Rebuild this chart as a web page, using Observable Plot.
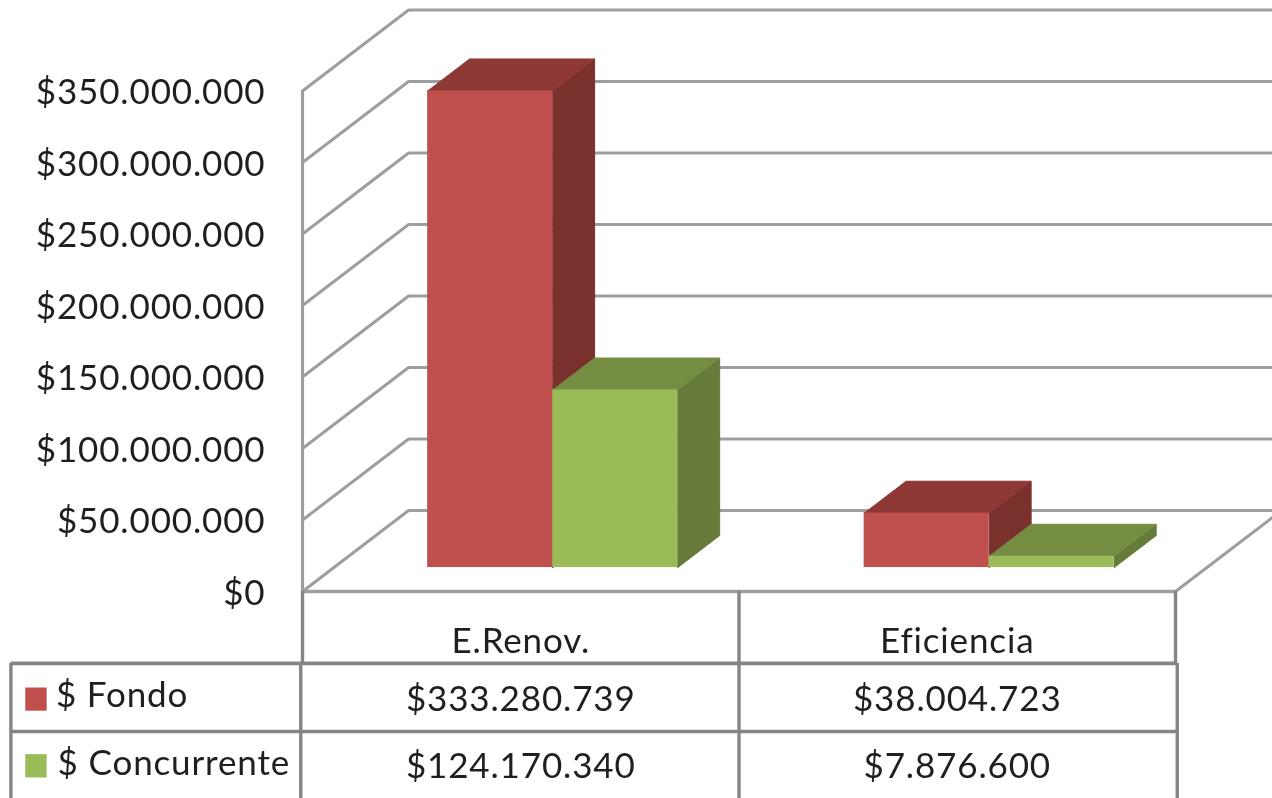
<!DOCTYPE html>
<html>
<head>
<meta charset="utf-8">
<style>html,body{margin:0;padding:0;background:#fff;overflow:hidden}svg{display:block}svg text{letter-spacing:.85px}</style>
<script src="https://cdn.jsdelivr.net/npm/d3@7"></script>
<script src="https://cdn.jsdelivr.net/npm/@observablehq/plot@0.6"></script>
</head>
<body>
<div id="chart"></div>
<script>
// ---- chart values ----
const categories = ["E.Renov.", "Eficiencia"];
const seriesNames = ["$ Fondo", "$ Concurrente"];
const fondo = [333280739, 38004723];
const concurrente = [124170340, 7876600];
const yTicks = [0, 50e6, 100e6, 150e6, 200e6, 250e6, 300e6, 350e6];

// ---- colours ----
const faceColors = [
  {front: "#C0504D", top: "#8E3936", side: "#7A302D"},
  {front: "#9BBB59", top: "#748D42", side: "#667B3A"}
];
const wallColor = "#9E9E9E", tableColor = "#858585", inkColor = "#1f1f1f";

// ---- oblique projection, in scale units (categories / dollars) ----
const depthX = 0.243, depthY = 56.6e6;   // shift of the full floor depth
const barDepth = [0.296, 0.691];         // bar's near and far depth
const barStart = 0.2148, barWidth = 0.2865;
const project = (cat, value, depth) => ({x: cat + depth * depthX, y: value + depth * depthY});

const fmt = d3.formatLocale({decimal: ",", thousands: ".", grouping: [3], currency: ["$", ""]}).format("$,d");

// ---- table layout, in scale units ----
const tableLeft = -0.668, tableLeftInner = -0.004, tableRight = 2.004;
const rowLines = [-50.3e6, -97.9e6, -145e6];
const rowText = [-35e6, -75.5e6, -122.5e6];

const wallLines = yTicks.map(v => [project(0, v, 0), project(0, v, 1), project(2.4, v, 1)]);
const floorRight = [project(2, 0, 0), project(2, 0, 1)];

const series = [fondo, concurrente];
const faces = [];
categories.forEach((_, c) => series.forEach((vals, s) => {
  const v = vals[c], x0 = c + barStart + s * barWidth, x1 = x0 + barWidth;
  const [n, f] = barDepth, col = faceColors[s];
  faces.push({fill: col.side, pts: [project(x1, 0, n), project(x1, 0, f), project(x1, v, f), project(x1, v, n), project(x1, 0, n)]});
  faces.push({fill: col.top, pts: [project(x0, v, n), project(x0, v, f), project(x1, v, f), project(x1, v, n), project(x0, v, n)]});
  const a = project(x0, v, n), b = project(x1, 0, n);
  faces.push({fill: col.front, rect: {x1: a.x, x2: b.x, y1: b.y, y2: a.y}});
}));

const xy = {x: "x", y: "y"};
const fontFamily = "Lato, 'Open Sans', sans-serif";
const txt = {fill: inkColor, fontSize: 35, fontFamily};

const marks = [
  // walls and floor
  ...wallLines.map(l => Plot.line(l, {...xy, stroke: wallColor, strokeWidth: 3})),
  Plot.line(floorRight, {...xy, stroke: wallColor, strokeWidth: 3}),
  Plot.ruleX([0], {y1: 0, y2: 350e6, stroke: wallColor, strokeWidth: 3.2}),
  Plot.ruleY([0], {x1: 0, x2: 2, stroke: wallColor, strokeWidth: 3.4}),
  // bars
  ...faces.map(f => f.rect
    ? Plot.rect([f.rect], {x1: "x1", x2: "x2", y1: "y1", y2: "y2", fill: f.fill})
    : Plot.line(f.pts, {...xy, fill: f.fill, stroke: f.fill, strokeWidth: 1})),
  // table grid
  Plot.ruleY(rowLines.slice(0, 2), {x1: tableLeft, x2: tableRight, stroke: tableColor, strokeWidth: 3.6}),
  Plot.ruleX([0, 1, 2], {y1: 0, y2: rowLines[0], stroke: tableColor, strokeWidth: 3.4}),
  Plot.ruleX([tableLeft, tableLeftInner, 1, tableRight], {y1: rowLines[0], y2: rowLines[2], stroke: tableColor, strokeWidth: 3.4}),
  // table text
  Plot.text(categories, {x: (_, i) => i + 0.5, y: () => rowText[0], text: d => d, ...txt}),
  ...series.map((vals, s) => Plot.text(vals, {x: (_, i) => i + 0.5, y: () => rowText[s + 1], text: d => fmt(d), ...txt})),
  // legend keys
  Plot.rect(seriesNames, {
    x1: () => tableLeft + 0.034, x2: () => tableLeft + 0.083,
    y1: (_, i) => rowText[i + 1] + (i ? -7.9e6 : -8.2e6), y2: (_, i) => rowText[i + 1] + (i ? 8.4e6 : 8.0e6),
    fill: (_, i) => faceColors[i].front
  }),
  Plot.text(seriesNames, {
    x: (_, i) => tableLeft + (i ? 0.107 : 0.103), y: (_, i) => rowText[i + 1] + (i ? 2.2e6 : 2.3e6),
    text: d => d, textAnchor: "start", ...txt
  }),
  // value axis
  Plot.axisY({ticks: yTicks, tickFormat: fmt, tickSize: 0, tickPadding: 37, label: null, anchor: "left", fontSize: 35, fontFamily, fill: inkColor, dy: 2})
];

const chart = Plot.plot({
  width: 1272, height: 798,
  marginLeft: 302, marginRight: 0, marginTop: 0, marginBottom: 0,
  x: {domain: [0, 970 / 436.5], axis: null},
  y: {domain: [-144.76e6, 413.29e6]},
  style: {background: "#fff", filter: "blur(0.7px)", fontFamily},
  marks
});
document.getElementById("chart").append(chart);
</script>
</body>
</html>
